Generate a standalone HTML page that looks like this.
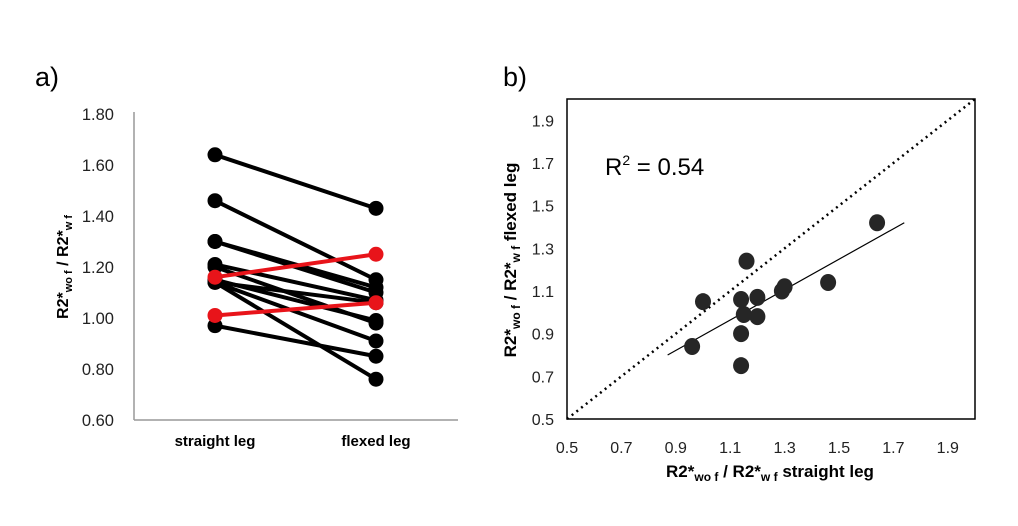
<!DOCTYPE html>
<html><head><meta charset="utf-8"><style>
body{margin:0;background:#fff;width:1018px;height:521px;overflow:hidden;font-family:"Liberation Sans",sans-serif}
svg text{font-family:"Liberation Sans",sans-serif}
</style></head><body>
<svg id="s" width="1018" height="521">
<text x="35" y="86" font-size="27">a)</text>
<text x="503" y="86" font-size="27">b)</text>
<g id="a"></g>
<g id="b"></g>
</svg>
<script>
const straightVals=[1.64,1.46,1.30,1.30,1.21,1.20,1.15,1.14,1.14,1.14,0.97,1.16,1.01];
const flexedVals=[1.43,1.15,1.12,1.10,1.07,0.98,0.99,1.06,0.91,0.76,0.85,1.25,1.06];
const redFlags=[0,0,0,0,0,0,0,0,0,0,0,1,1];
const aTicks=["0.60","0.80","1.00","1.20","1.40","1.60","1.80"];
const aCats=["straight leg","flexed leg"];
const scX=[1.64,1.46,1.30,1.29,1.20,1.20,1.16,1.15,1.14,1.14,1.14,1.00,0.96];
const scY=[1.42,1.14,1.12,1.10,1.07,0.98,1.24,0.99,1.06,0.90,0.75,1.05,0.84];
const bTicks=["0.5","0.7","0.9","1.1","1.3","1.5","1.7","1.9"];
const trendX=[0.87,1.74];
const trendY=[0.80,1.42];
const NS="http://www.w3.org/2000/svg";
function mk(p,t,at,txt){const e=document.createElementNS(NS,t);for(const k in at)e.setAttribute(k,at[k]);if(txt!==undefined)e.textContent=txt;p.appendChild(e);return e;}
// panel a
const A=document.getElementById('a');
const ay=v=>420-(v-0.6)/1.2*306;
const ax=i=>[215,376][i];
let e=mk(A,'line',{x1:134,y1:112,x2:134,y2:420,stroke:'#999','stroke-width':1.5});

e=mk(A,'line',{x1:134,y1:420,x2:458,y2:420,stroke:'#999','stroke-width':1.5});

aTicks.forEach(t=>{const el=mk(A,'text',{x:114,y:ay(+t)+6,'font-size':16.5,'text-anchor':'end',fill:'#222'},t);
});
aCats.forEach((c,i)=>{const el=mk(A,'text',{x:ax(i),y:446,'font-size':15,'font-weight':'bold','text-anchor':'middle'},c);
});
const yt=mk(A,'text',{transform:'translate(68,267) rotate(-90)','font-size':16,'font-weight':'bold','text-anchor':'middle'});

yt.innerHTML='R2*<tspan font-size="11" dy="4">wo f</tspan><tspan dy="-4"> / R2*</tspan><tspan font-size="11" dy="4">w f</tspan>';
const order=[...straightVals.keys()].sort((i,j)=>redFlags[i]-redFlags[j]);
order.forEach(i=>{const col=redFlags[i]?'#e8141a':'#000';
const l=mk(A,'line',{x1:ax(0),y1:ay(straightVals[i]),x2:ax(1),y2:ay(flexedVals[i]),stroke:col,'stroke-width':4});

[straightVals[i],flexedVals[i]].forEach((v,k)=>{const c=mk(A,'circle',{cx:ax(k),cy:ay(v),r:7.5,fill:col});
});});
// panel b
const B=document.getElementById('b');
const bx=v=>567+(v-0.5)/1.5*408;
const by=v=>419-(v-0.5)/1.5*320;
e=mk(B,'rect',{x:567,y:99,width:408,height:320,fill:'none',stroke:'#000','stroke-width':1.5});

e=mk(B,'line',{x1:bx(0.5),y1:by(0.5),x2:bx(2),y2:by(2),stroke:'#000','stroke-width':2.5,'stroke-dasharray':'2 4'});

e=mk(B,'line',{x1:bx(trendX[0]),y1:by(trendY[0]),x2:bx(trendX[1]),y2:by(trendY[1]),stroke:'#000','stroke-width':1.2});

bTicks.forEach(t=>{let el=mk(B,'text',{x:554,y:by(+t)+6,'font-size':16,'text-anchor':'end',fill:'#222'},t);

el=mk(B,'text',{x:bx(+t),y:453,'font-size':16,'text-anchor':'middle',fill:'#222'},t);
});
scX.forEach((x,i)=>{const c=mk(B,'ellipse',{cx:bx(x),cy:by(scY[i]),rx:8,ry:8.5,fill:'#262626'});
});
const r2=mk(B,'text',{x:605,y:175,'font-size':24});

r2.innerHTML='R<tspan font-size="14" dy="-10">2</tspan><tspan dy="10"> = 0.54</tspan>';
const xt=mk(B,'text',{x:770,y:477,'font-size':17,'font-weight':'bold','text-anchor':'middle'});

xt.innerHTML='R2*<tspan font-size="12" dy="4">wo f</tspan><tspan dy="-4"> / R2*</tspan><tspan font-size="12" dy="4">w f</tspan><tspan dy="-4">  straight leg</tspan>';
const yt2=mk(B,'text',{transform:'translate(516,260) rotate(-90)','font-size':17,'font-weight':'bold','text-anchor':'middle'});

yt2.innerHTML='R2*<tspan font-size="12" dy="4">wo f</tspan><tspan dy="-4"> / R2*</tspan><tspan font-size="12" dy="4">w f</tspan><tspan dy="-4"> flexed  leg</tspan>';
</script>
</body></html>
